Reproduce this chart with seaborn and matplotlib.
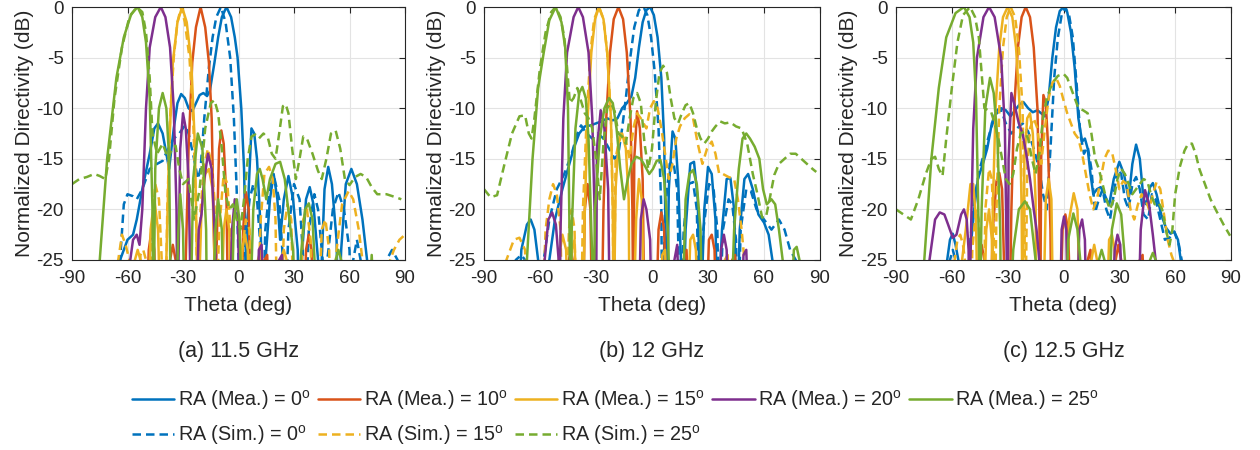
import pandas as pd
import matplotlib
matplotlib.use("Agg")
import matplotlib.pyplot as plt
import seaborn as sns

# ---------------- data: (theta deg, normalized dB) ----------------
# (a) 11.5 GHz
a_mea0 = [(-66, -32), (-64, -25), (-60, -23), (-57, -22.5), (-55, -21), (-52, -18), (-48, -14.5), (-45.5, -12),
          (-43.5, -11.5), (-41, -12.5), (-38.5, -15), (-37.5, -16), (-35, -12), (-33, -9.5), (-31, -8.6), (-29, -9),
          (-27, -10), (-25, -10.3), (-23, -9.5), (-21, -8.7), (-19, -8.5), (-17, -8.8), (-15.5, -8.3), (-13, -5.5),
          (-11, -3), (-9, -1), (-6.5, 0), (-4, -1), (-2, -3), (-0.5, -5), (1.5, -10), (3, -16), (4, -25), (4.5, -32),
          (5.5, -18), (7, -12), (8.5, -12.5), (10, -15), (12, -22), (13, -30), (15, -24), (17, -19), (19, -16.5),
          (21, -19), (22.5, -23), (24.5, -19), (27, -16.7), (29.5, -19), (32, -24), (33, -32), (34.5, -24),
          (36.5, -19), (38.5, -17.8), (40.5, -19.5), (43, -25), (44, -32), (45, -25), (46.5, -18), (48.5, -15.8),
          (50.5, -17.5), (53, -23), (54, -32), (55.5, -24), (58, -17.5), (61, -16), (64, -17.5), (67, -21),
          (69.5, -25), (71, -32)]
a_sim0 = [(-66, -32), (-64, -25), (-62, -19.5), (-60, -18.5), (-57, -18.7), (-55, -19), (-52, -18), (-48, -16),
          (-44, -15.5), (-41, -15.2), (-38, -14), (-35, -13), (-32, -12.5), (-29, -11.7), (-27, -12.5), (-24, -15),
          (-22, -17), (-20.5, -16), (-18.5, -11), (-16, -6), (-14, -3), (-12, -1), (-9.5, 0), (-7, -1.5),
          (-4.5, -5), (-2.5, -11), (-1, -18), (0, -25), (0.5, -32), (3, -24), (6, -19), (8, -17.5), (10, -19),
          (12, -24), (13, -32), (14.5, -22), (17, -17.5), (19.5, -17), (22, -19), (24, -25), (25, -32), (27, -22),
          (30, -17.5), (33, -19), (35, -25), (36, -32), (38, -22), (41, -18.5), (43, -20), (45.5, -25), (46.5, -32),
          (48, -25), (51, -20), (54, -18.3), (57, -20), (60, -24), (61, -32), (62, -25), (64, -23), (66, -25),
          (67, -32), (79, -32), (80, -25), (83, -24), (86, -25), (87, -32)]
a_mea10 = [(-50, -32), (-48.5, -24), (-47, -22), (-45.5, -24), (-44.5, -32), (-38, -32), (-37, -25), (-35.5, -23.5),
           (-34, -25), (-33, -32), (-29.5, -32), (-28.5, -25), (-27, -14), (-25, -5.5), (-23, -2), (-20.5, 0),
           (-18, -2), (-16, -5.5), (-14.5, -11), (-13, -25), (-12.5, -32), (-12, -25), (-10.5, -14), (-9.3, -12.2),
           (-8, -13.5), (-6.5, -19), (-5.5, -32), (1.5, -32), (2.5, -22), (4, -18.3), (5.5, -20), (7, -32),
           (13, -32), (14, -25), (15.5, -24.5), (17, -32), (35.5, -32), (36.5, -24), (38, -22.5), (39.5, -24),
           (40.5, -32)]
a_mea15 = [(-58, -32), (-56, -25), (-54.5, -24), (-53, -25), (-52, -32), (-49, -32), (-47.5, -22), (-45.5, -19),
           (-43.5, -22), (-42, -32), (-40, -32), (-39, -25), (-37.5, -14), (-35.5, -5.5), (-33, -1.5), (-30.5, 0),
           (-28, -1.5), (-25.5, -5.5), (-23.5, -14), (-22.5, -25), (-22, -32), (-20, -20), (-18, -16.5), (-16, -16),
           (-14, -18), (-12, -32), (-9.5, -32), (-8, -22), (-6.5, -20), (-5, -22), (-3.5, -32), (1, -32), (2, -24),
           (3.5, -22.5), (5, -24), (6, -32), (9, -32), (10.5, -25), (12, -24), (13, -32), (22, -32), (23, -25),
           (24.5, -24), (26, -25), (27, -32)]
a_sim15 = [(-67, -32), (-65, -25), (-63, -22.5), (-61, -23.5), (-59, -25), (-58, -32), (-54, -32), (-53, -24.5),
           (-51.5, -24), (-50, -25), (-49, -32), (-48, -32), (-46.5, -21), (-45, -17.5), (-43, -19), (-41.5, -25),
           (-41, -32), (-39.5, -32), (-38.5, -20), (-37, -11), (-35, -5), (-33, -1.5), (-31, 0), (-29, -1.5),
           (-26.5, -5), (-24.5, -11), (-23, -20), (-22, -32), (-20.5, -20), (-18.5, -15.5), (-16.5, -14),
           (-14.5, -15.5), (-13, -19), (-12, -32), (-10.5, -22), (-8, -16.5), (-6, -17.5), (-4, -23), (-3, -32),
           (1, -32), (2, -24), (4, -21), (6, -22), (7.5, -32), (10, -32), (12, -21), (14, -16.5), (16.5, -15.8),
           (18.5, -17), (20, -21), (21, -32), (23, -32), (24.5, -22), (26.5, -19.5), (28.5, -21), (30, -32),
           (33, -32), (35, -21), (37, -20), (39, -23), (40, -32), (43, -32), (45, -22), (47, -21), (49, -24),
           (50, -32), (51, -32), (53, -24), (56, -19.5), (59.5, -18.2), (62, -19), (65, -22), (67, -25), (68, -32),
           (75, -32), (78, -26), (81, -25.5), (84, -24), (87, -23), (90, -22.5)]
a_mea20 = [(-60, -32), (-58.5, -25), (-57, -23), (-55, -22.5), (-53.5, -23.5), (-52, -20), (-50, -10), (-48, -4),
           (-45, -1), (-42, 0), (-39.5, -1), (-37, -4), (-35, -10), (-33.5, -20), (-33, -32), (-31.5, -14),
           (-30, -10.5), (-28.5, -12), (-27, -17), (-25.5, -32), (-23, -32), (-21.5, -22), (-20, -20.5),
           (-18.5, -17), (-16.5, -14.5), (-14.5, -16), (-12.5, -24), (-12, -32), (-5, -32), (-3.5, -22), (-2, -19),
           (-0.5, -20), (1, -32), (10, -32), (11, -24), (12.5, -23.5), (14, -32), (21, -32), (22, -25),
           (23.5, -24.5), (25, -32)]
a_mea25 = [(-76, -32), (-75, -25), (-71, -15), (-66, -7), (-62, -3), (-58, -0.7), (-54.5, 0), (-52, -1),
           (-50, -3.5), (-48, -9), (-46.5, -20), (-46, -32), (-45, -16), (-43, -10), (-41, -8.5), (-39, -10),
           (-37.5, -15), (-36.5, -32), (-34, -32), (-32.5, -22), (-31.5, -18.5), (-30, -22), (-29, -32), (-26, -32),
           (-24.5, -17), (-22, -12.5), (-19.5, -14), (-17.5, -22), (-17, -32), (-14, -32), (-12.5, -22), (-11, -19),
           (-9, -22), (-8, -32), (-4, -32), (-2.5, -21), (-1, -19), (0.5, -21), (2, -32), (6, -32), (8, -20),
           (10, -16.5), (11.5, -16), (13, -17), (15, -19), (17, -17), (20, -15.5), (22.5, -15.3), (25, -17),
           (27.5, -21), (29.5, -24), (31, -32), (34, -24), (36, -20), (38, -19.4), (40, -21), (43, -32), (51, -32),
           (52.5, -25), (54, -24), (55.5, -25), (56.5, -32), (70, -32), (72, -24.5), (74, -32)]
a_sim25 = [(-90, -17.5), (-86, -17), (-82, -16.8), (-78, -16.5), (-75, -16.7), (-72, -17), (-70, -15), (-67, -9),
           (-63, -4), (-59, -1), (-55, 0), (-52, -0.5), (-50, -2.5), (-48, -7), (-46.5, -12.5), (-44, -14.5),
           (-41, -13.5), (-38, -15), (-36, -14), (-34, -13.7), (-32, -16), (-30, -17.5), (-27, -17), (-24, -21),
           (-21, -18), (-18, -12), (-15, -9.5), (-13, -9.2), (-11, -10.5), (-9, -14), (-7, -18.5), (-5, -20),
           (-3, -19.5), (-1, -21), (1, -22), (3, -19), (5, -15), (7, -12.8), (9, -12.6), (11, -13), (13.5, -12.5),
           (16, -13), (18, -14.5), (20, -15), (22, -12.5), (24, -9.8), (25.5, -9.6), (27, -10.5), (29, -14),
           (31, -17), (33, -15), (35, -12.8), (37, -13), (40, -14.5), (43, -16.2), (45, -17), (47.5, -15),
           (50, -12.5), (52.5, -12.2), (55, -14), (57.5, -17), (60, -17.6), (63, -16.8), (66, -16.5), (69, -16.8),
           (72, -17.8), (75, -18.5), (80, -18.5), (85, -18.8), (88, -19)]

# (b) 12 GHz
b_mea0 = [(-72, -32), (-70, -24), (-67, -21.5), (-65, -21), (-63, -22), (-61, -25), (-60, -32), (-57, -32),
          (-55, -25), (-52, -21), (-48, -18), (-45, -16), (-42, -14), (-39, -12.5), (-36, -11.8), (-33, -11.7),
          (-30, -11.5), (-27, -11.3), (-24, -11), (-21, -11.2), (-18.5, -11), (-16, -10), (-13.5, -9.5),
          (-11, -8.8), (-9, -7), (-7, -4), (-5, -1.5), (-3, -0.3), (-1, 0), (1, -0.8), (3, -3), (5, -7),
          (6.5, -13), (7.5, -25), (8, -32), (9, -18), (11, -12.3), (12.5, -13), (14, -17), (15.5, -25),
          (16.5, -32), (18, -22), (20.5, -15.5), (22.5, -15.3), (24.5, -19), (26, -32), (28, -20), (30, -15.8),
          (32, -16.5), (34, -21), (35, -32), (37.5, -22), (40, -17), (42, -16.9), (44, -20), (45.5, -32),
          (47, -22), (49.5, -17), (51.5, -16.5), (54, -18), (57, -20.5), (60, -21.3), (62.5, -22.5), (64.5, -25),
          (65.5, -32)]
b_sim0 = [(-75, -32), (-73, -25), (-70, -24.5), (-68, -25), (-67, -32), (-60, -32), (-58, -25), (-55, -21),
          (-51, -18), (-47, -16.5), (-43, -14.5), (-40, -12.5), (-38, -11.7), (-35, -12.5), (-32, -13),
          (-29, -12.5), (-26, -13), (-23, -14), (-20, -15), (-18, -14.5), (-16, -12), (-14, -9), (-12, -5.5),
          (-9.5, -2), (-7, -0.3), (-4.5, 0), (-2.5, -0.8), (-0.5, -3), (1.5, -6.5), (3.5, -12), (5, -20),
          (5.5, -32), (7, -20), (9.5, -15.5), (11.5, -15.3), (13.5, -18), (15, -32), (17, -22), (19.5, -17.5),
          (22, -17.3), (24, -20), (25.5, -32), (27.5, -22), (30.5, -17.5), (33, -18), (35, -22), (36, -32),
          (38, -22), (41, -19), (43, -19.5), (45, -23), (46, -32), (47.5, -22), (50.5, -18), (53, -18.2),
          (56, -20), (60, -21), (64, -22), (68, -21), (71, -22), (74, -24), (77, -25), (78, -32)]
b_mea10 = [(-46, -32), (-44.5, -25), (-43.5, -24), (-42.5, -25), (-41.5, -32), (-37, -32), (-36, -20),
           (-34.5, -17.5), (-33, -20), (-32, -32), (-27, -32), (-26, -20), (-24.5, -11), (-22.5, -4.5),
           (-20.5, -1.2), (-18, 0), (-15.5, -1.2), (-13.5, -4.5), (-11.5, -11), (-10.5, -20), (-10, -32),
           (-9.5, -15), (-8, -10.3), (-6.5, -12), (-5, -17), (-4, -32), (2, -32), (3.5, -22), (5, -20.3),
           (6.5, -22), (8, -32), (16, -32), (17, -25), (18.5, -24), (20, -32), (29, -32), (30.5, -23), (32, -22.5),
           (33.5, -24), (34.5, -32), (42, -32), (43, -25), (44.5, -24.5), (46, -32)]
b_mea15 = [(-52, -32), (-50, -25), (-48, -22.5), (-46, -24), (-45, -32), (-44, -32), (-43, -24), (-41.5, -23),
           (-40, -32), (-37, -32), (-36, -20), (-34.5, -11), (-32.5, -4.5), (-30.5, -1.2), (-28.4, 0),
           (-26, -1.2), (-24, -4.5), (-22, -11), (-21, -20), (-20.5, -32), (-19.5, -18), (-18, -13.5),
           (-16, -12.5), (-14, -14), (-12.5, -19), (-12, -32), (-10, -32), (-8.5, -21), (-7, -17), (-5.5, -19),
           (-4, -32), (4, -32), (5.5, -24.5), (7, -24), (8.5, -32), (19, -32), (20.5, -23), (22, -22.5),
           (23.5, -24), (25, -32), (38, -32), (39, -25), (40.5, -24.5), (42, -32)]
b_sim15 = [(-80, -32), (-78, -25), (-74, -23), (-71, -22.8), (-68, -24), (-66, -32), (-59, -32), (-57, -22),
           (-55, -19), (-53, -17.5), (-51, -18.5), (-49, -22), (-48, -32), (-46, -32), (-44.5, -22), (-43, -20),
           (-41.5, -22), (-40.5, -32), (-38, -32), (-37, -20), (-35, -11), (-33, -4.5), (-31, -1.2), (-28.4, 0),
           (-26, -1.2), (-24, -4.5), (-22, -11), (-21, -20), (-20.5, -32), (-19.5, -15), (-17, -12.5),
           (-14.5, -12.8), (-12, -15), (-10, -12), (-8, -10.5), (-6, -11), (-3, -12), (-1, -10), (1, -9.3),
           (3, -10), (5, -12), (7, -14.5), (9, -17), (11, -15.5), (13, -13), (15, -11.8), (17.5, -11),
           (20, -10.6), (22, -11), (24.5, -13.5), (27, -15.5), (29.5, -14), (32, -13.3), (34, -14.5), (36, -16.5),
           (38, -16.5), (41, -16.8), (44, -17), (46, -19), (48, -22), (49.5, -25), (50.5, -32)]
b_mea20 = [(-59, -32), (-57.5, -25), (-55.5, -21), (-53.5, -20.3), (-51.5, -21.5), (-50, -25), (-49.5, -32),
           (-49, -22), (-47.5, -11), (-45.5, -4.5), (-42, -1), (-39.5, 0), (-37, -1), (-34, -4.5), (-32, -11),
           (-30.5, -22), (-30, -32), (-29.5, -14), (-27.5, -10.2), (-25.5, -12), (-23.5, -18), (-22.5, -32),
           (-7, -32), (-6, -21), (-4.5, -19), (-3, -20), (-1, -23), (0, -32), (11, -32), (12, -25), (13.5, -23.5),
           (15, -32), (36, -32), (37, -24), (38.5, -22.5), (40, -24), (41, -32), (48, -32), (49, -24.5),
           (50.5, -24), (52, -32)]
b_mea25 = [(-68, -32), (-67, -25), (-64, -15), (-61, -8), (-58, -4.5), (-55, -1.3), (-51.6, 0), (-48.5, -1.5),
           (-46.5, -4), (-45, -10), (-44, -25), (-43.5, -32), (-43, -22), (-41, -12), (-39, -8.5), (-37.3, -7.9),
           (-35.5, -9), (-34, -13), (-32, -25), (-31.5, -32), (-30.5, -20), (-28, -13), (-25.5, -10), (-23, -9),
           (-21, -9.5), (-19, -12), (-17, -16), (-15, -19), (-13, -17), (-11, -15.5), (-8.5, -14.8), (-6, -15),
           (-3.5, -15.8), (-1.5, -16.5), (0.5, -16), (2.5, -15.2), (4.5, -15.1), (6.5, -17), (8.5, -22),
           (10, -32), (16, -32), (18, -19), (20, -16.5), (22, -16.1), (24, -17.5), (26, -22), (27, -32),
           (42, -32), (44, -22), (46.5, -16), (48.5, -13), (50.5, -12.5), (52.5, -13), (55, -13.8), (57.5, -15),
           (59.5, -18), (61.5, -19.5), (64, -19), (66, -19.5), (68, -22), (70, -25), (71, -32), (74, -32),
           (76, -24), (77.5, -23.7), (79, -25), (80, -32)]
b_sim25 = [(-90, -18), (-86.5, -18.8), (-83, -18.6), (-79, -15.5), (-75, -12.5), (-71, -10.8), (-68, -10.7),
           (-66, -12.5), (-64.5, -13), (-63, -11), (-60, -6), (-57, -2.5), (-54, -0.5), (-51.6, 0), (-49, -1),
           (-47, -3), (-45.5, -6), (-44, -9.5), (-42, -9), (-40, -8), (-38.5, -9), (-36, -10.5), (-34, -11),
           (-32, -12), (-30, -15), (-28, -19), (-26, -13.5), (-24, -10), (-22, -9.5), (-20, -10.3), (-18, -12.5),
           (-16, -12.8), (-14, -13.5), (-12, -11), (-10, -9), (-8, -8.5), (-6, -9.5), (-4, -13.5), (-2, -16),
           (0, -14), (2, -9.5), (4, -6.5), (6, -5.8), (8, -6.5), (10, -9), (12, -11), (14, -11.5), (16, -10.5),
           (18, -9.7), (20, -9.5), (22, -10.5), (24, -12), (26, -13), (28, -13.5), (30, -13), (32, -12.3),
           (34, -11.8), (36.5, -11.3), (39, -11.5), (42, -11.4), (45, -11.8), (48, -12), (51, -13.5), (54, -16.5),
           (56.5, -18.5), (59, -20.8), (61, -20.8), (63, -19), (65.5, -16.6), (68, -15.5), (71, -15), (74, -14.5),
           (77, -14.5), (80, -15), (83, -15.5), (86, -16), (88, -16.3)]

# (c) 12.5 GHz
c_mea0 = [(-64, -32), (-62.5, -25), (-61, -23), (-59.5, -22.4), (-58, -23.5), (-56.5, -25), (-55.5, -32),
          (-52, -32), (-50.5, -25), (-48, -20), (-46, -17), (-43, -15.3), (-41, -14), (-38.5, -11.5), (-36, -10.2),
          (-33.5, -10), (-31, -10.2), (-28.5, -10.8), (-26, -10.2), (-23.5, -9.6), (-21.5, -9.4), (-19, -10),
          (-16.5, -10.4), (-14, -10.2), (-12, -10.5), (-10, -10.8), (-8, -9), (-6, -5), (-4, -2), (-2, -0.4),
          (0, 0), (2, -0.5), (4, -2.5), (6, -6), (8, -11), (10, -13.3), (11.5, -13), (13, -14), (14.5, -16.5),
          (16, -18.5), (18, -18), (20, -17.8), (22, -18.5), (24.5, -19.6), (27, -17), (30, -15.3), (32.5, -16.5),
          (35, -19), (37, -15.5), (39, -13.6), (41, -15), (43, -19), (44.5, -19.5), (46.5, -17.8), (48, -17.4),
          (50, -18.5), (52.5, -20.5), (55, -21.8), (57.5, -22.4), (59.5, -22.2), (61.5, -23), (63, -25),
          (64, -32)]
c_sim0 = [(-62, -32), (-61, -25), (-59.5, -24), (-58, -25), (-57, -32), (-52, -32), (-50.5, -24), (-48, -19),
          (-45, -16), (-42, -14), (-39, -12), (-36, -10.5), (-33.5, -10.2), (-31, -11.5), (-28, -12.5), (-25, -12),
          (-22, -11.5), (-19, -12.3), (-16, -14), (-13, -16), (-11, -18.5), (-9, -20), (-7, -14), (-5, -7),
          (-3, -3), (-1, -0.8), (0.9, 0), (3, -0.8), (5, -3), (7, -7.5), (9, -12.5), (11, -14.5), (13, -13.8),
          (15, -16), (17, -20.3), (19, -19), (21, -18), (23, -20), (25, -21), (27, -18.5), (29, -16), (31, -16.5),
          (33, -19), (35, -20), (37, -17.5), (39, -16.8), (41, -18), (43, -20.5), (45.5, -21), (47.5, -18.5),
          (49.5, -19), (52, -21), (54.5, -23), (57, -22.8), (59.5, -22.2), (62, -23.5), (63.5, -25), (64.5, -32)]
c_mea10 = [(-47, -32), (-45.5, -25), (-44, -23.5), (-42.5, -25), (-41.5, -32), (-39.5, -32), (-38, -22),
           (-36, -17.2), (-34.5, -16.4), (-33, -18), (-32, -25), (-31.5, -32), (-29, -32), (-28, -20),
           (-26.5, -10), (-24.5, -4), (-22.5, -1), (-20.3, 0), (-18, -1), (-16, -4), (-14, -10), (-13, -20),
           (-12.5, -32), (-12, -15), (-10.8, -8.7), (-9.5, -9.5), (-8.5, -13), (-7, -22), (-6.5, -32), (-2, -32),
           (-0.5, -22), (1, -20.5), (2.5, -22), (4, -32), (12, -32), (13, -25), (14.5, -24), (16, -32), (27, -32),
           (28, -25), (29.5, -23.5), (31, -25), (32, -32), (40, -32), (41, -25), (42.5, -24.5), (44, -32)]
c_mea15 = [(-56, -32), (-54.5, -25), (-52.5, -22), (-50, -17.5), (-48.5, -17.5), (-47, -21), (-46, -32),
           (-43, -32), (-41.5, -22), (-40, -20), (-38.5, -23), (-38, -32), (-38, -20), (-36.5, -10), (-34.5, -4),
           (-32.5, -1), (-30, 0), (-27.5, -1), (-25.5, -4), (-23.5, -10), (-22.5, -20), (-22, -32), (-21, -15),
           (-19.5, -11), (-18, -10.5), (-16.5, -12.5), (-15, -19), (-14.5, -32), (-11, -32), (-9.5, -19),
           (-8, -17), (-6.5, -19), (-5.5, -32), (1, -32), (3, -21), (5.5, -18.4), (7.5, -20), (9, -32), (14, -32),
           (15, -25), (16.5, -23.5), (18, -25), (19, -32), (23, -32), (24.5, -23), (26, -22.5), (27.5, -24),
           (28.5, -32)]
c_sim15 = [(-60, -32), (-58.5, -25), (-57, -23), (-55.5, -22.5), (-54, -23.5), (-53, -25), (-52, -32),
           (-50, -32), (-49, -24), (-47, -20), (-45.5, -21), (-44.5, -32), (-43, -32), (-42, -20), (-40, -16),
           (-38.5, -17), (-37.5, -22), (-37, -32), (-36, -20), (-34.5, -10), (-32.5, -4), (-30.5, -1), (-28.4, 0),
           (-26, -1), (-24, -4), (-22, -10), (-21, -20), (-20.5, -32), (-19.5, -16), (-18, -12), (-16, -11),
           (-14, -12), (-12, -15.5), (-10, -12), (-8, -9), (-6, -7.5), (-4, -7), (-2, -7.8), (0, -9.2),
           (2, -10.5), (4, -11.5), (6, -12.5), (8, -13), (10, -14.5), (12, -16.5), (14, -18.5), (16, -20),
           (18, -19), (20, -17), (22, -15), (24, -14.2), (26, -14.3), (28, -16), (30, -18), (32, -17.2),
           (34, -17.5), (36, -20), (38, -21), (40, -19.5), (42, -18.5), (44, -19), (46, -20), (48, -18.5),
           (50, -17.3), (52, -18), (54, -20.5), (56, -23), (58, -24.5), (59, -25), (60, -32)]
c_mea20 = [(-74, -32), (-72, -25), (-69, -21), (-66.5, -20.3), (-64, -20.5), (-62, -21.5), (-59.5, -22.8),
           (-57.5, -22.5), (-55, -20.5), (-53.5, -20), (-52, -21), (-51, -24), (-50.5, -32), (-50, -25),
           (-48.5, -12), (-46.5, -5), (-43, -1), (-40, 0), (-37, -1), (-33.5, -5), (-31.5, -12), (-30.5, -25),
           (-30, -32), (-29.5, -15), (-28, -8.5), (-26.5, -9.5), (-24, -11.5), (-22, -12.5), (-20, -14.5),
           (-18, -17), (-16, -20), (-14.5, -22), (-13, -25), (-12.5, -32), (-2, -32), (-1, -22), (0.3, -20.7),
           (1.5, -22), (2.5, -32), (7, -32), (8.5, -22), (10, -21), (11.5, -23), (12.5, -32), (26, -32),
           (27.5, -24), (29, -22.5), (30.5, -23.5), (32, -32), (40, -32), (41.5, -22), (43.8, -18.1), (46, -19.5),
           (48, -22.5), (49.5, -25), (50.5, -32)]
c_mea25 = [(-76, -32), (-74.8, -25), (-71, -15), (-67, -8), (-63, -3), (-58, -0.6), (-53.5, 0), (-50.5, -1),
           (-48.5, -3.5), (-47, -9), (-46, -18), (-45.3, -25), (-45, -32), (-44, -20), (-42, -10), (-39.5, -7),
           (-37.5, -8.5), (-35.5, -13), (-34, -22), (-33.5, -32), (-29, -32), (-27, -24), (-24, -20),
           (-20.7, -19.2), (-18, -20), (-15, -25), (-14, -32), (1, -32), (2.5, -23), (5.3, -20.4), (7.5, -22),
           (9, -25), (10, -32), (18, -32), (19, -25), (20.5, -24), (22, -25), (23, -32), (24, -32), (26, -22),
           (28.6, -19.4), (31, -20.5), (33, -25), (34, -32), (45, -32), (46.5, -25), (48, -24.3), (49.5, -25),
           (50.5, -32)]
c_sim25 = [(-90, -20), (-86, -20.5), (-82, -21), (-78, -19), (-74, -16.5), (-71, -15), (-69, -14.8), (-67, -16),
           (-65, -16.7), (-63, -13), (-60, -8), (-57, -3.5), (-54, -0.8), (-50.2, 0), (-47.5, -1), (-45.5, -3),
           (-44, -6.5), (-42.5, -10), (-40.5, -10.2), (-39, -10.3), (-37, -11.5), (-35, -13), (-33, -15),
           (-31, -17), (-29, -17.5), (-27, -16.5), (-25, -14), (-23, -12.5), (-21, -12.3), (-19, -13), (-17, -15),
           (-15, -16.5), (-13, -14.5), (-11, -11), (-9, -9), (-7, -8), (-5, -7.3), (-3, -6.8), (0, -6.6), (2, -7),
           (4, -8), (6, -9), (8, -10), (10.5, -10.2), (13, -10.5), (15, -12.5), (17, -15), (19, -16), (21, -17.5),
           (23, -19), (25, -20), (27, -19), (29, -17), (31, -16), (33, -16.5), (35, -17.5), (37, -18.5), (39, -18),
           (41, -17.5), (43, -17), (45, -17.2), (47, -18.5), (49, -19.5), (51, -19.3), (53, -20), (55, -22),
           (57, -23.5), (58.5, -22), (60, -18.5), (62.5, -15.8), (65, -14.2), (67, -13.5), (69, -13.5),
           (71, -14.5), (73, -16), (76, -17.5), (79, -19), (82, -20.1), (86, -21.5), (89.5, -22.6)]

panel_titles = ['(a) 11.5 GHz', '(b) 12 GHz', '(c) 12.5 GHz']
series_names = ['RA (Mea.) = 0', 'RA (Sim.) = 0', 'RA (Mea.) = 10', 'RA (Mea.) = 15',
                'RA (Sim.) = 15', 'RA (Mea.) = 20', 'RA (Mea.) = 25', 'RA (Sim.) = 25']
panel_data = [
    [a_mea0, a_sim0, a_mea10, a_mea15, a_sim15, a_mea20, a_mea25, a_sim25],
    [b_mea0, b_sim0, b_mea10, b_mea15, b_sim15, b_mea20, b_mea25, b_sim25],
    [c_mea0, c_sim0, c_mea10, c_mea15, c_sim15, c_mea20, c_mea25, c_sim25],
]
x_ticks = [-90, -60, -30, 0, 30, 60, 90]
y_ticks = [-25, -20, -15, -10, -5, 0]

# MATLAB default colour order
colors = {'0': '#0072BD', '10': '#D95319', '15': '#EDB120', '20': '#7E2F8E', '25': '#77AC30'}

# ---------------- style ----------------
sns.set_style("whitegrid")
plt.rcParams['font.family'] = ['Liberation Sans', 'DejaVu Sans']
plt.rcParams['mathtext.fontset'] = 'custom'
plt.rcParams['mathtext.rm'] = 'Liberation Sans'
plt.rcParams['mathtext.it'] = 'Liberation Sans:italic'

fig = plt.figure(figsize=(12.6, 4.5), dpi=100)
ax_rects = [(72, 333), (484, 336), (896, 335)]
axes = [fig.add_axes([l / 1260, 1 - 260 / 450, w / 1260, 253 / 450]) for l, w in ax_rects]

handles = {}
for ax, curves, title in zip(axes, panel_data, panel_titles):
    for name, pts in zip(series_names, curves):
        df = pd.DataFrame(pts, columns=['theta', 'db'])
        ang = name.split('= ')[1]
        sns.lineplot(data=df, x='theta', y='db', ax=ax, sort=False, estimator=None,
                     color=colors[ang], linewidth=1.8, legend=False)
        ln = ax.lines[-1]
        if 'Sim' in name:
            ln.set_dashes((3.4, 2.0))
        ln.set_label(name + '$^\\mathrm{o}$')
        handles[name] = ln

    ax.set_xlim(-90, 90)
    ax.set_ylim(-25, 0)
    ax.set_xticks(x_ticks)
    ax.set_yticks(y_ticks)
    ax.set_xticklabels([str(t) for t in x_ticks])
    ax.set_yticklabels([str(t) for t in y_ticks])
    ax.grid(True, color='#e3e3e3', linewidth=0.8)
    ax.set_axisbelow(True)
    ax.tick_params(direction='in', length=4, width=0.8, top=True, right=True,
                   colors='#262626', labelsize=13.5)
    ax.tick_params(axis='x', pad=7)
    ax.tick_params(axis='y', pad=6)
    for s in ax.spines.values():
        s.set_visible(True)
        s.set_color('#262626')
        s.set_linewidth(0.8)
    ax.set_xlabel('Theta (deg)', fontsize=15, color='#262626', labelpad=7)
    ax.set_ylabel('Normalized Directivity (dB)', fontsize=15, color='#262626', labelpad=2)
    bb = ax.get_position()
    fig.text(bb.x0 + bb.width / 2, 1 - 352 / 450, title, ha='center', va='center',
             fontsize=15.5, color='#262626')

order = ['RA (Mea.) = 0', 'RA (Sim.) = 0', 'RA (Mea.) = 10', 'RA (Sim.) = 15',
         'RA (Mea.) = 15', 'RA (Sim.) = 25', 'RA (Mea.) = 20', 'RA (Mea.) = 25']
leg = fig.legend([handles[k] for k in order], [handles[k].get_label() for k in order],
                 loc='upper left', bbox_to_anchor=(132 / 1260, 1 - 388 / 450), ncol=5,
                 frameon=False, fontsize=14.2, handlelength=2.15, handletextpad=0.2,
                 columnspacing=0.35, labelspacing=0.55, borderpad=0, borderaxespad=0)
for t in leg.get_texts():
    t.set_color('#262626')

fig.savefig('out.png', dpi=100)
